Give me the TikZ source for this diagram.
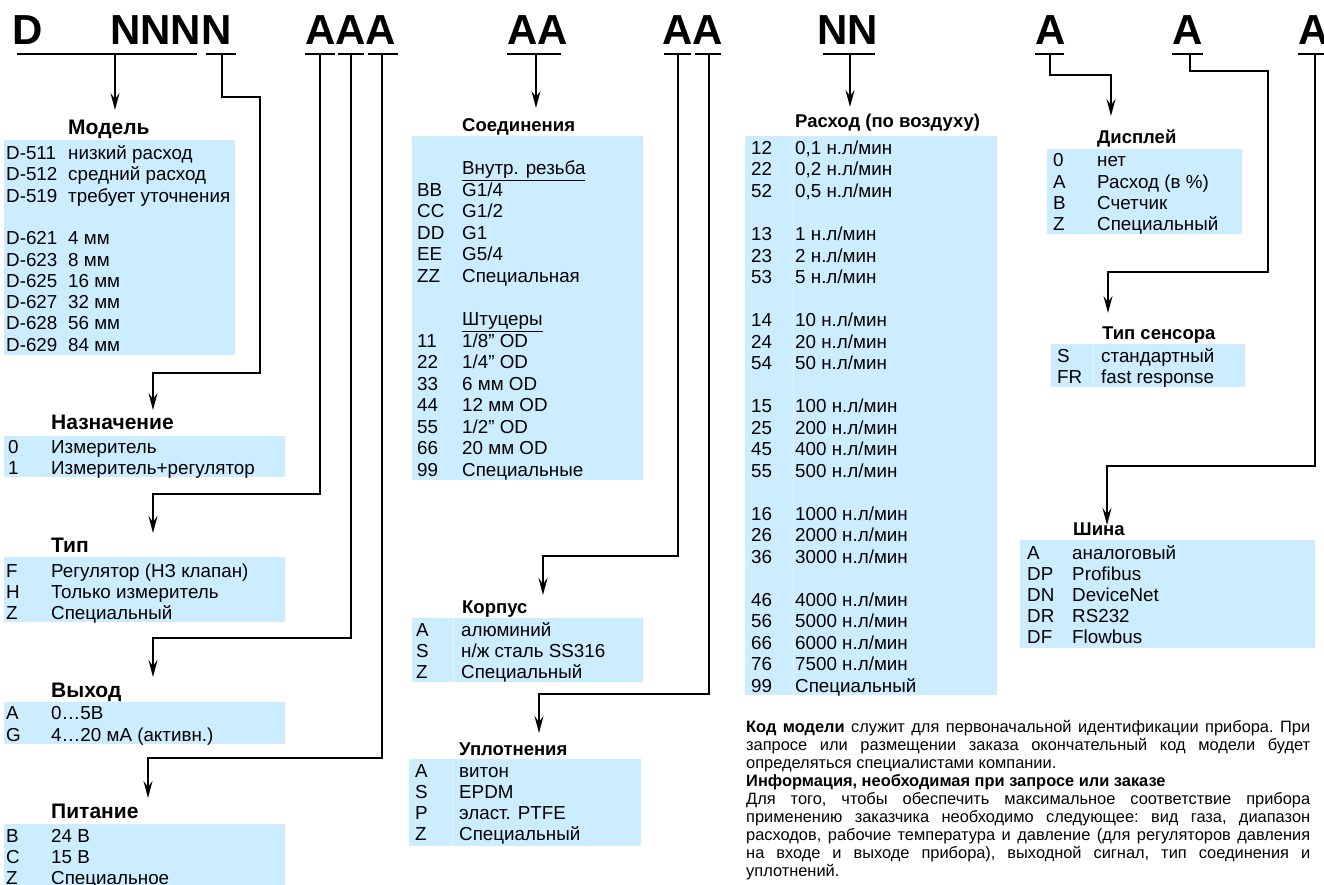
\documentclass[tikz,border=0pt]{standalone}
\usepackage{fontspec}
\usepackage{graphicx}
\setmainfont{Liberation Sans}
\usetikzlibrary{arrows.meta}
\definecolor{cellblue}{HTML}{CCECFF}
\definecolor{gridblue}{HTML}{E4F5FF}
\newcommand\tabrow[6]{%
  \node[txt] (#1c) at (#2,#4) {#5};
  \node[txt] (#1d) at (#3,#4) {#6};}
\newsavebox\jbox
\newcommand\jline[1]{\sbox\jbox{#1}%
  \ifdim\wd\jbox>564pt \hbox{\resizebox{564pt}{\ht\jbox}{\usebox\jbox}}%
  \else\hbox to 564pt{#1}\fi}
\begin{document}
\begin{tikzpicture}[x=1pt,y=-1pt,
  hdr/.style={font=\fontsize{42}{42}\selectfont\bfseries, anchor=base west, inner sep=0},
  ttl/.style={font=\fontsize{18.5}{20}\selectfont\bfseries, anchor=base west, inner sep=0},
  ttlL/.style={font=\fontsize{21}{22}\selectfont\bfseries, anchor=base west, inner sep=0},
  txt/.style={font=\fontsize{18.8}{20}\selectfont, anchor=base west, inner sep=0},
  cellbox/.style={fill=cellblue},
  gridline/.style={draw=gridblue, line width=1pt},
  uline/.style={line width=2pt},
  conn/.style={line width=1.8pt, -{Stealth[length=17pt,width=9pt,inset=6pt]}},
  ]
\useasboundingbox (0,0) rectangle (1324,885);

% ---------- header code ----------
\node[hdr] (hD)  at (12,45)   {D};
\node[hdr] (hN)  at (110,45)  {NNNN};
\node[hdr] (hA1) at (305,45)  {AAA};
\node[hdr] (hA2) at (507,45)  {AA};
\node[hdr] (hA3) at (662,45)  {AA};
\node[hdr] (hNN) at (817,45)  {NN};
\node[hdr] (hA4) at (1035,45) {A};
\node[hdr] (hA5) at (1172,45) {A};
\node[hdr] (hA6) at (1298,45) {A};

% underlines
\draw[uline] (17,54) -- (197,54);
\draw[uline] (206,54) -- (236,54);
\draw[uline] (305,54) -- (335,54);
\draw[uline] (338,54) -- (364,54);
\draw[uline] (368,54) -- (398,54);
\draw[uline] (507,54) -- (561,54);
\draw[uline] (664,54) -- (691,54);
\draw[uline] (695,54) -- (721,54);
\draw[uline] (823,54) -- (875,54);
\draw[uline] (1035,54) -- (1064,54);
\draw[uline] (1172,54) -- (1203,54);
\draw[uline] (1298,54) -- (1324,54);

% connector start points
\coordinate (sMod) at (115,54);
\coordinate (sNaz) at (222,54);
\coordinate (sTip) at (320,54);
\coordinate (sVyh) at (351,54);
\coordinate (sPit) at (382,54);
\coordinate (sSoe) at (536,54);
\coordinate (sKor) at (678,54);
\coordinate (sUpl) at (709,54);
\coordinate (sRas) at (850,54);
\coordinate (sDis) at (1050,54);
\coordinate (sSen) at (1190,54);
\coordinate (sShi) at (1315,54);
% arrow tips
\coordinate (eMod) at (115,110);
\coordinate (eNaz) at (153,410);
\coordinate (eTip) at (153,533);
\coordinate (eVyh) at (153,677);
\coordinate (ePit) at (148,798);
\coordinate (eSoe) at (536,108);
\coordinate (eKor) at (543,595);
\coordinate (eUpl) at (539,733);
\coordinate (eRas) at (850,107);
\coordinate (eDis) at (1111,116);
\coordinate (eSen) at (1108,313);
\coordinate (eShi) at (1107,525);

\draw[conn] (sMod) -- (eMod);
\draw[conn] (sNaz) -- ++(0,43) -| (260,373) -| (eNaz);
\draw[conn] (sTip) |- (eTip |- 0,494) -- (eTip);
\draw[conn] (sVyh) |- (eVyh |- 0,638) -- (eVyh);
\draw[conn] (sPit) |- (ePit |- 0,758) -- (ePit);
\draw[conn] (sSoe) -- (eSoe);
\draw[conn] (sKor) |- (eKor |- 0,556) -- (eKor);
\draw[conn] (sUpl) |- (eUpl |- 0,694) -- (eUpl);
\draw[conn] (sRas) -- (eRas);
\draw[conn] (sDis) |- (eDis |- 0,75) -- (eDis);
\draw[conn] (sSen) |- (1268,71) |- (eSen |- 0,272) -- (eSen);
\draw[conn] (sShi) |- (eShi |- 0,466) -- (eShi);

% ---------- Модель ----------
\fill[cellbox] (4,140) rectangle (235,355);
\node[ttlL] (tMod) at (68,135) {Модель};
\tabrow{m1}{6}{68}{159.5}{D-511}{низкий расход}
\tabrow{m2}{6}{68}{180.8}{D-512}{средний расход}
\tabrow{m3}{6}{68}{202.1}{D-519}{требует уточнения}
\tabrow{m4}{6}{68}{244.7}{D-621}{4 мм}
\tabrow{m5}{6}{68}{266}{D-623}{8 мм}
\tabrow{m6}{6}{68}{287.3}{D-625}{16 мм}
\tabrow{m7}{6}{68}{308.6}{D-627}{32 мм}
\tabrow{m8}{6}{68}{329.9}{D-628}{56 мм}
\tabrow{m9}{6}{68}{351.2}{D-629}{84 мм}

% ---------- Назначение ----------
\fill[cellbox] (4,436) rectangle (285,477);
\node[ttlL] (tNaz) at (51,429) {Назначение};
\tabrow{n1}{8}{51}{453.5}{0}{Измеритель}
\tabrow{n2}{8}{51}{474.5}{1}{Измеритель+регулятор}

% ---------- Тип ----------
\fill[cellbox] (4,557) rectangle (285,622);
\node[ttlL] (tTip) at (51,552) {Тип};
\tabrow{t1}{6}{51}{577}{F}{Регулятор (НЗ клапан)}
\tabrow{t2}{6}{51}{598}{H}{Только измеритель}
\tabrow{t3}{6}{51}{619}{Z}{Специальный}

% ---------- Выход ----------
\fill[cellbox] (4,702) rectangle (285,744);
\node[ttlL] (tVyh) at (51,697) {Выход};
\tabrow{v1}{6}{51}{719.5}{A}{0…5В}
\tabrow{v2}{6}{51}{741.5}{G}{4…20 мА (активн.)}

% ---------- Питание ----------
\fill[cellbox] (4,824) rectangle (285,885);
\node[ttlL] (tPit) at (51,818) {Питание};
\tabrow{p1}{6}{51}{842.5}{B}{24 В}
\tabrow{p2}{6}{51}{863.5}{C}{15 В}
\tabrow{p3}{6}{51}{884.5}{Z}{Специальное}

% ---------- Соединения ----------
\fill[cellbox] (412,136) rectangle (643,480);
\node[ttl] (tSoe) at (462,132) {Соединения};
\node[txt] (s0) at (462,175) {\underline{Внутр. резьба}};
\tabrow{s1}{417}{462}{196.5}{BB}{G1/4}
\tabrow{s2}{417}{462}{218}{CC}{G1/2}
\tabrow{s3}{417}{462}{239.5}{DD}{G1}
\tabrow{s4}{417}{462}{261}{EE}{G5/4}
\tabrow{s5}{417}{462}{282.5}{ZZ}{Специальная}
\node[txt] (s6) at (462,325.5) {\underline{Штуцеры}};
\tabrow{s7}{417}{462}{347}{11}{1/8" OD}
\tabrow{s8}{417}{462}{368.5}{22}{1/4" OD}
\tabrow{s9}{417}{462}{390}{33}{6 мм OD}
\tabrow{s10}{417}{462}{411.5}{44}{12 мм OD}
\tabrow{s11}{417}{462}{433}{55}{1/2" OD}
\tabrow{s12}{417}{462}{454.5}{66}{20 мм OD}
\tabrow{s13}{417}{462}{476}{99}{Специальные}

% ---------- Корпус ----------
\fill[cellbox] (412,618) rectangle (643,682);
\draw[gridline] (453,618) -- (453,682);
\node[ttl] (tKor) at (462,613) {Корпус};
\tabrow{k1}{416}{461}{636.5}{A}{алюминий}
\tabrow{k2}{416}{461}{657.5}{S}{н/ж сталь SS316}
\tabrow{k3}{416}{461}{678.5}{Z}{Специальный}

% ---------- Уплотнения ----------
\fill[cellbox] (409,759) rectangle (641,846);
\draw[gridline] (452,759) -- (452,846);
\node[ttl] (tUpl) at (459,755) {Уплотнения};
\tabrow{u1}{415}{459}{777.5}{A}{витон}
\tabrow{u2}{415}{459}{798.5}{S}{EPDM}
\tabrow{u3}{415}{459}{819.5}{P}{эласт. PTFE}
\tabrow{u4}{415}{459}{840.5}{Z}{Специальный}

% ---------- Расход ----------
\fill[cellbox] (745,136) rectangle (997,695);
\draw[gridline] (793,136) -- (793,695);
\node[ttl] (tRas) at (795,128) {Расход (по воздуху)};
\tabrow{r1}{751}{795}{154.5}{12}{0,1 н.л/мин}
\tabrow{r2}{751}{795}{176}{22}{0,2 н.л/мин}
\tabrow{r3}{751}{795}{197.5}{52}{0,5 н.л/мин}
\tabrow{r4}{751}{795}{240.5}{13}{1 н.л/мин}
\tabrow{r5}{751}{795}{262}{23}{2 н.л/мин}
\tabrow{r6}{751}{795}{283.5}{53}{5 н.л/мин}
\tabrow{r7}{751}{795}{326.5}{14}{10 н.л/мин}
\tabrow{r8}{751}{795}{348}{24}{20 н.л/мин}
\tabrow{r9}{751}{795}{369.5}{54}{50 н.л/мин}
\tabrow{r10}{751}{795}{412.5}{15}{100 н.л/мин}
\tabrow{r11}{751}{795}{434}{25}{200 н.л/мин}
\tabrow{r12}{751}{795}{455.5}{45}{400 н.л/мин}
\tabrow{r13}{751}{795}{477}{55}{500 н.л/мин}
\tabrow{r14}{751}{795}{520}{16}{1000 н.л/мин}
\tabrow{r15}{751}{795}{541.5}{26}{2000 н.л/мин}
\tabrow{r16}{751}{795}{563}{36}{3000 н.л/мин}
\tabrow{r17}{751}{795}{606}{46}{4000 н.л/мин}
\tabrow{r18}{751}{795}{627.5}{56}{5000 н.л/мин}
\tabrow{r19}{751}{795}{649}{66}{6000 н.л/мин}
\tabrow{r20}{751}{795}{670.5}{76}{7500 н.л/мин}
\tabrow{r21}{751}{795}{692}{99}{Специальный}

% ---------- Дисплей ----------
\fill[cellbox] (1047,149) rectangle (1242,234);
\node[ttl] (tDis) at (1097,144) {Дисплей};
\tabrow{d1}{1053}{1097}{166.5}{0}{нет}
\tabrow{d2}{1053}{1097}{188.5}{A}{Расход (в \%)}
\tabrow{d3}{1053}{1097}{209.5}{B}{Счетчик}
\tabrow{d4}{1053}{1097}{230.5}{Z}{Специальный}

% ---------- Тип сенсора ----------
\fill[cellbox] (1051,344) rectangle (1245,387);
\draw[gridline] (1093,344) -- (1093,387);
\node[ttl] (tSen) at (1102,339) {Тип сенсора};
\tabrow{e1}{1057}{1101}{362.5}{S}{стандартный}
\tabrow{e2}{1057}{1101}{383.5}{FR}{fast response}

% ---------- Шина ----------
\fill[cellbox] (1020,540) rectangle (1315,648);
\node[ttl] (tShi) at (1073,535) {Шина};
\tabrow{b1}{1027}{1072}{559.5}{A}{аналоговый}
\tabrow{b2}{1027}{1072}{580.5}{DP}{Profibus}
\tabrow{b3}{1027}{1072}{601.5}{DN}{DeviceNet}
\tabrow{b4}{1027}{1072}{622.5}{DR}{RS232}
\tabrow{b5}{1027}{1072}{643.5}{DF}{Flowbus}

% ---------- text ----------
\node[anchor=north west, inner sep=0] (info) at (746,720) {\vbox{%
  \fontsize{16.4}{18}\selectfont\frenchspacing
  \jline{\textbf{Код модели} служит для первоначальной идентификации прибора. При}
  \jline{запросе или размещении заказа окончательный код модели будет}
  \hbox{определяться специалистами компании.}
  \hbox{\textbf{Информация, необходимая при запросе или заказе}}
  \jline{Для того, чтобы обеспечить максимальное соответствие прибора}
  \jline{применению заказчика необходимо следующее: вид газа, диапазон}
  \jline{расходов, рабочие температура и давление (для регуляторов давления}
  \jline{на входе и выходе прибора), выходной сигнал, тип соединения и}
  \hbox{уплотнений.}}};
\end{tikzpicture}
\end{document}
